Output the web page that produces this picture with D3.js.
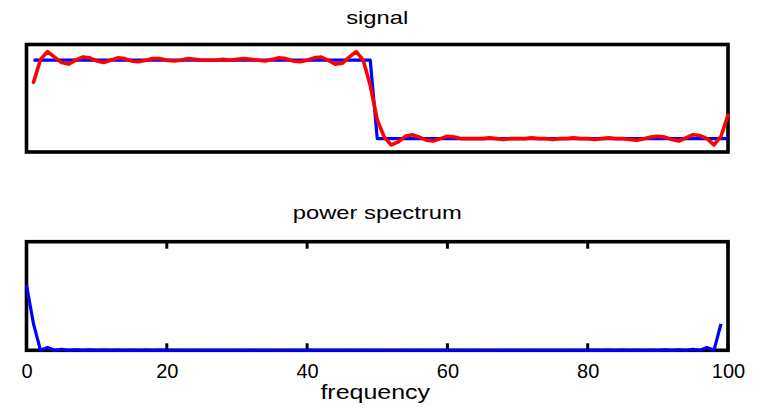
<!DOCTYPE html>
<html>
<head>
<meta charset="utf-8">
<script src="https://cdn.jsdelivr.net/npm/d3@7"></script>
<style>
  html, body { margin: 0; padding: 0; background: #fff; }
  svg text { font-family: "Liberation Sans", Arial, sans-serif; fill: #000; }
</style>
</head>
<body>
<svg id="chart" width="763" height="409"></svg>
<script>
// ---- data ----
const sampleIndex = d3.range(1, 101);
const signalValues = [
  1,1,1,1,1,1,1,1,1,1, 1,1,1,1,1,1,1,1,1,1,
  1,1,1,1,1,1,1,1,1,1, 1,1,1,1,1,1,1,1,1,1,
  1,1,1,1,1,1,1,1,1,0, 0,0,0,0,0,0,0,0,0,0,
  0,0,0,0,0,0,0,0,0,0, 0,0,0,0,0,0,0,0,0,0,
  0,0,0,0,0,0,0,0,0,0, 0,0,0,0,0,0,0,0,0,0
];
const filteredValues = [
  0.72,1.01,1.11,1.04,0.97,0.95,1.00,1.04,1.03,0.99,
  0.97,1.00,1.03,1.02,0.99,0.98,1.00,1.02,1.02,1.00,
  0.99,1.00,1.02,1.01,1.00,1.00,1.00,1.01,1.00,1.01,
  1.02,1.01,1.00,0.99,1.01,1.03,1.02,0.99,0.98,1.00,
  1.03,1.04,1.00,0.95,0.96,1.04,1.11,1.00,0.68,0.24,
  0.02,-0.08,-0.04,0.03,0.05,0.02,-0.02,-0.03,0.00,0.03,
  0.02,0.00,0.00,0.00,0.00,0.01,0.00,-0.01,0.00,0.00,
  0.00,0.01,0.00,0.00,-0.01,0.00,0.00,0.01,0.00,0.00,
  -0.01,0.00,0.01,0.00,0.00,-0.01,-0.02,0.00,0.02,0.03,
  0.02,-0.01,-0.03,0.01,0.05,0.04,0.00,-0.08,0.03,0.30
];
const frequencies = d3.range(0, 100);
const powerValues = [
  2500,1010,0,113,0,41,0,21,0,13,
  0,9,0,6,0,5,0,4,0,3,
  0,2,0,2,0,2,0,1,0,1,
  0,1,0,1,0,1,0,1,0,1,
  0,1,0,1,0,1,0,1,0,1,
  0,1,0,1,0,1,0,1,0,1,
  0,1,0,1,0,1,0,1,0,1,
  0,1,0,1,0,2,0,2,0,2,
  0,3,0,4,0,5,0,6,0,9,
  0,13,0,21,0,41,0,113,0,1010
];
const freqTicks = [0, 20, 40, 60, 80, 100];
const titles = ["signal", "power spectrum"];
const xLabel = "frequency";

// ---- layout ----
const svg = d3.select("#chart");
const L = 26.5, R = 728;
const top1 = 44.5, bot1 = 152;
const top2 = 241.7, bot2 = 350.3;
const cx = (L + R) / 2;
const stretch = 1.25;

function wideText(x, y, size, str) {
  svg.append("text")
    .attr("transform", `translate(${x},${y}) scale(${stretch},1)`)
    .attr("text-anchor", "middle")
    .attr("font-size", size)
    .text(str);
}

// ---- top panel ----
const x1 = d3.scaleLinear().domain([0, 100]).range([L, R]);
const y1 = d3.scaleLinear().domain([-0.17, 1.2]).range([bot1, top1]);

svg.append("rect").attr("x", L).attr("y", top1).attr("width", R - L).attr("height", bot1 - top1)
  .attr("fill", "none").attr("stroke", "#000").attr("stroke-width", 3.6);

const line1 = d3.line().x((d, i) => x1(sampleIndex[i])).y(d => y1(d));
svg.append("path").datum(signalValues).attr("d", line1)
  .attr("fill", "none").attr("stroke", "#0000ff").attr("stroke-width", 3.2).attr("stroke-linejoin", "round");
svg.append("path").datum(filteredValues).attr("d", line1)
  .attr("fill", "none").attr("stroke", "#ff0000").attr("stroke-width", 3.6).attr("stroke-linejoin", "round").attr("stroke-linecap", "round");

wideText(cx, 24, 19, titles[0]);

// ---- bottom panel ----
const x2 = d3.scaleLinear().domain([0, 100]).range([L, R]);
const y2 = d3.scaleLinear().domain([0, 4160]).range([bot2, top2]);

svg.append("rect").attr("x", L).attr("y", top2).attr("width", R - L).attr("height", bot2 - top2)
  .attr("fill", "none").attr("stroke", "#000").attr("stroke-width", 3.6);

// inward ticks top and bottom
const tickG = svg.append("g");
tickG.selectAll("line.tt").data(freqTicks).enter().append("line")
  .attr("x1", d => x2(d)).attr("x2", d => x2(d)).attr("y1", top2).attr("y2", top2 + 7)
  .attr("stroke", "#000").attr("stroke-width", 3);
tickG.selectAll("line.tb").data(freqTicks).enter().append("line")
  .attr("x1", d => x2(d)).attr("x2", d => x2(d)).attr("y1", bot2).attr("y2", bot2 - 7)
  .attr("stroke", "#000").attr("stroke-width", 3);

const line2 = d3.line().x((d, i) => x2(frequencies[i])).y(d => y2(d));
svg.append("path").datum(powerValues).attr("d", line2)
  .attr("fill", "none").attr("stroke", "#0000ff").attr("stroke-width", 3.2).attr("stroke-linejoin", "round");

wideText(cx, 219, 19, titles[1]);

const axis = d3.axisBottom(x2).tickValues(freqTicks).tickSize(0).tickPadding(0).tickFormat(d3.format("d"));
const axG = svg.append("g").attr("transform", `translate(0,${bot2})`).call(axis);
axG.select(".domain").remove();
axG.selectAll("text").attr("font-size", 20).attr("font-family", "Liberation Sans, Arial, sans-serif")
  .attr("dy", null).attr("y", 28);

wideText(cx - 2, 399, 20, xLabel);
</script>
</body>
</html>
